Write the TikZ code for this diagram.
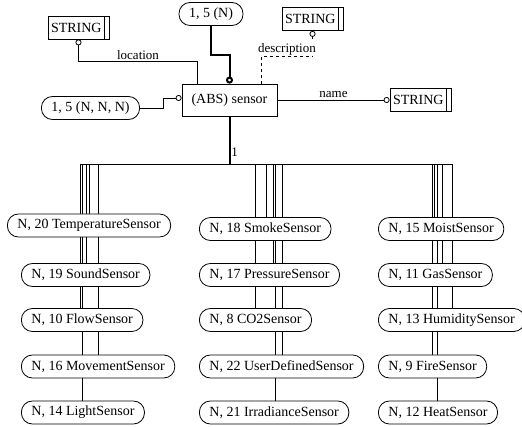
\documentclass[tikz,border=0pt]{standalone}
\usepackage{fontspec}
\setmainfont{Liberation Serif}
\usetikzlibrary{arrows.meta, positioning, calc, backgrounds}

\begin{document}
\begin{tikzpicture}[
  x=1pt, y=-1pt,
  every node/.style={font=\fontsize{14}{16}\selectfont, line width=0.8pt},
  entity/.style={draw, fill=white, minimum width=95pt, minimum height=32pt},
  card/.style={draw, fill=white, rounded corners=11pt, minimum height=23pt, inner xsep=10pt},
  sub/.style={card, anchor=west},
  strbox/.style={draw, fill=white, text width=55pt, align=left, inner xsep=3pt, minimum height=23pt,
    path picture={\draw ([xshift=-5pt]path picture bounding box.north east) -- ([xshift=-5pt]path picture bounding box.south east);}},
  lbl/.style={font=\fontsize{13}{15}\selectfont, inner sep=1.5pt, fill=white},
  conn/.style={line width=0.8pt},
  heavy/.style={line width=2pt},
  attr/.style={conn, {Circle[open, length=6pt, width=6pt]}-},
  rattr/.style={conn, -{Circle[open, length=6pt, width=6pt]}}
]
  \useasboundingbox (0,0) rectangle (522,427);

  % Entity and its attributes
  \node[entity] (sensor) at (229.5,100) {(ABS) sensor};
  \node[card] (pN) at (211,14) {1, 5 (N)};
  \node[card] (pNNN) at (90.5,108) {1, 5 (N, N, N)};
  \node[strbox] (strloc) at (78.5,27.5) {STRING};
  \node[strbox] (strdesc) at (312.5,19) {STRING};
  \node[strbox] (strname) at (420.5,100) {STRING};
  \coordinate (bus) at (229.5,164);

  % Subtypes, left column
  \node[sub] (temp) at (7,225.5) {N, 20 TemperatureSensor};
  \node[sub] (sound) at (21,275) {N, 19 SoundSensor};
  \node[sub] (flow) at (21,320) {N, 10 FlowSensor};
  \node[sub] (move) at (21,366.5) {N, 16 MovementSensor};
  \node[sub] (light) at (21,412.5) {N, 14 LightSensor};

  % Subtypes, middle column
  \node[sub] (smoke) at (199,229) {N, 18 SmokeSensor};
  \node[sub] (press) at (199,275) {N, 17 PressureSensor};
  \node[sub] (co2) at (199,320) {N, 8 CO2Sensor};
  \node[sub] (user) at (199,366.5) {N, 22 UserDefinedSensor};
  \node[sub] (irr) at (199,412.5) {N, 21 IrradianceSensor};

  % Subtypes, right column
  \node[sub] (moist) at (378,229) {N, 15 MoistSensor};
  \node[sub] (gas) at (378,275) {N, 11 GasSensor};
  \node[sub] (humid) at (378,320) {N, 13 HumiditySensor};
  \node[sub] (fire) at (378,366.5) {N, 9 FireSensor};
  \node[sub] (heat) at (378,412.5) {N, 12 HeatSensor};

  \begin{scope}[on background layer]
    % Attribute links
    \draw[attr] (strloc.south) -- ++(0,22) -| node[lbl, pos=0.25, above] {location} ([xshift=16pt]sensor.north west);
    \draw[attr, dashed] (strdesc.south) -- ++(0,26) -| node[lbl, pos=0.25, above] {description} ([xshift=-16pt]sensor.north east);
    \draw[heavy, -{Circle[open, length=7pt, width=7pt]}] (pN.south) -- ++(0,29) -| (sensor.north);
    \draw[rattr] (pNNN.east) -- ++(23,0) |- ([yshift=2pt]sensor.west);
    \draw[rattr] (sensor.east) -- node[lbl, above] {name} (strname.west);

    % Hierarchy
    \draw[heavy] (sensor.south) -- node[lbl, right, pos=0.75, fill=none] {1} (bus);
    \draw[conn] (bus) -| (89,0 |- temp.north);
    \draw[conn] (bus) -| (86.5,0 |- sound.north);
    \draw[conn] (bus) -| (80.5,0 |- flow.north);
    \draw[conn] (bus) -| (98,0 |- move.north);
    \draw[conn] (bus) -| (82,0 |- light.north);
    \draw[conn] (bus) -| (266,0 |- smoke.north);
    \draw[conn] (bus) -| (273,0 |- press.north);
    \draw[conn] (bus) -| (255,0 |- co2.north);
    \draw[conn] (bus) -| (282,0 |- user.north);
    \draw[conn] (bus) -| (275,0 |- irr.north);
    \draw[conn] (bus) -| (434.5,0 |- moist.north);
    \draw[conn] (bus) -| (442,0 |- gas.north);
    \draw[conn] (bus) -| (452,0 |- humid.north);
    \draw[conn] (bus) -| (432,0 |- fire.north);
    \draw[conn] (bus) -| (437.5,0 |- heat.north);
  \end{scope}
\end{tikzpicture}
\end{document}
